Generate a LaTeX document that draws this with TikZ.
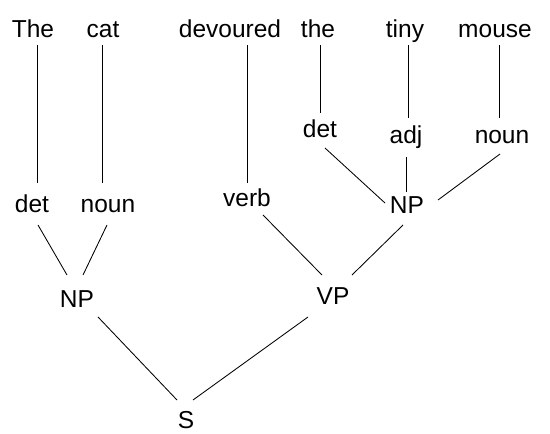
\documentclass[tikz,border=0pt]{standalone}
\usepackage{fontspec}
\setmainfont{Liberation Sans}
\begin{document}
\begin{tikzpicture}[x=1pt,y=-1pt,
  word/.style={anchor=base,inner sep=0pt,font=\fontsize{24.5}{29}\selectfont},
  edge/.style={line width=0.85pt,black}]
\useasboundingbox (0,0) rectangle (550,434);
% words
\node[word] (The) at (33,37) {The};
\node[word] (cat) at (103,37) {cat};
\node[word] (devoured) at (230,37) {devoured};
\node[word] (the) at (318,37) {the};
\node[word] (tiny) at (405,37) {tiny};
\node[word] (mouse) at (495,37) {mouse};
% tags
\node[word] (det1) at (32,212) {det};
\node[word] (noun1) at (108,212) {noun};
\node[word] (verb) at (247,206) {verb};
\node[word] (det2) at (320,137) {det};
\node[word] (adj) at (406,143) {adj};
\node[word] (noun2) at (502,143) {noun};
% phrases
\node[word] (NP2) at (407,213) {NP};
\node[word] (NP1) at (77,307) {NP};
\node[word] (VP) at (333,304) {VP};
\node[word] (S) at (186,428) {S};
% connectors
\draw[edge] ([shift={(4,8)}]The.base) -- ([shift={(5,-29)}]det1.base);
\draw[edge] ([shift={(-1,8)}]cat.base) -- ([shift={(-6,-29)}]noun1.base);
\draw[edge] ([shift={(17,8)}]devoured.base) -- ([shift={(0,-23)}]verb.base);
\draw[edge] ([shift={(2,8)}]the.base) -- ([shift={(0,-24)}]det2.base);
\draw[edge] ([shift={(3,8)}]tiny.base) -- ([shift={(2,-25)}]adj.base);
\draw[edge] ([shift={(4,8)}]mouse.base) -- ([shift={(-3,-25)}]noun2.base);
\draw[edge] ([shift={(5,11)}]det2.base) -- ([shift={(-22,-10)}]NP2.base);
\draw[edge] ([shift={(0,14)}]adj.base) -- ([shift={(-1,-21)}]NP2.base);
\draw[edge] ([shift={(-2,11)}]noun2.base) -- ([shift={(31,-13)}]NP2.base);
\draw[edge] ([shift={(6,13)}]det1.base) -- ([shift={(-10,-32)}]NP1.base);
\draw[edge] ([shift={(-1,13)}]noun1.base) -- ([shift={(6,-32)}]NP1.base);
\draw[edge] ([shift={(16,9)}]verb.base) -- ([shift={(-11,-29)}]VP.base);
\draw[edge] ([shift={(-4,12)}]NP2.base) -- ([shift={(19,-29)}]VP.base);
\draw[edge] ([shift={(21,10)}]NP1.base) -- ([shift={(-9,-28)}]S.base);
\draw[edge] ([shift={(-25,13)}]VP.base) -- ([shift={(7,-28)}]S.base);
\end{tikzpicture}
\end{document}
